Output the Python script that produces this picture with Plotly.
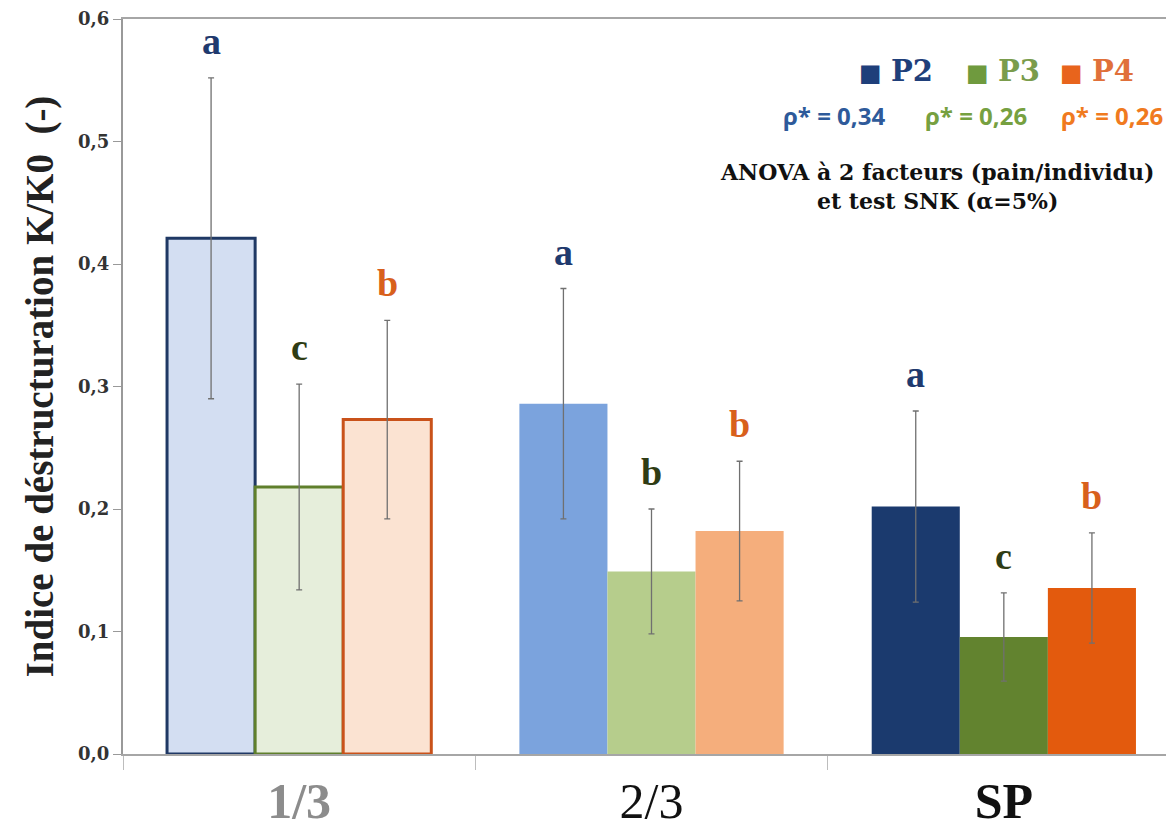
import plotly.graph_objects as go

categories = ["1/3", "2/3", "SP"]
series = ["P2", "P3", "P4"]

p2_values = [0.421, 0.286, 0.202]
p3_values = [0.218, 0.149, 0.0955]
p4_values = [0.273, 0.182, 0.1355]

p2_err = [0.131, 0.094, 0.078]
p3_err = [0.084, 0.051, 0.036]
p4_err = [0.081, 0.057, 0.045]

p2_letters = ["a", "a", "a"]
p3_letters = ["c", "b", "c"]
p4_letters = ["b", "b", "b"]

rho_labels = ["ρ* = 0,34", "ρ* = 0,26", "ρ* = 0,26"]
tick_labels = ["0,0", "0,1", "0,2", "0,3", "0,4", "0,5", "0,6"]

values = [p2_values, p3_values, p4_values]
errors = [p2_err, p3_err, p4_err]
letters = [p2_letters, p3_letters, p4_letters]

# styles
fill_colors = [
    ["#d3def2", "#7ba3dd", "#1b3a6e"],
    ["#e6eedb", "#b6cd8c", "#62832f"],
    ["#fbe3d2", "#f5ae7c", "#e35a0d"],
]
line_colors = [
    ["#1f3864", "#7ba3dd", "#1b3a6e"],
    ["#5f7f2c", "#b6cd8c", "#62832f"],
    ["#c9521a", "#f5ae7c", "#e35a0d"],
]
line_widths = [3, 0, 0]
letter_colors = ["#1f3a6e", "#2f3c14", "#d8601c"]
legend_colors = ["#1f3f7a", "#6f9a3e", "#e8641c"]
legend_text_colors = ["#1f3f7a", "#7a9c4c", "#e0703a"]
rho_colors = ["#2e5a9a", "#76a040", "#f07a20"]

# page body has an 8px default margin
OFF = 8
W, H = 1172, 836 - OFF
ML, MR, MT, MB = 123 - OFF, 0, 19 - OFF, 82
BARGAP = 0.25
group_px = (W - ML - MR) / len(categories)
bar_px = group_px * (1 - BARGAP) / len(series)

fig = go.Figure()
for i, s in enumerate(series):
    fig.add_trace(go.Bar(
        name=s,
        x=categories,
        y=values[i],
        marker=dict(color=fill_colors[i], line=dict(color=line_colors[i], width=line_widths)),
        error_y=dict(type="data", array=errors[i], visible=True,
                     color="#707070", thickness=1.3, width=3),
        showlegend=False,
    ))

annotations = []
for i, s in enumerate(series):
    for j, c in enumerate(categories):
        annotations.append(dict(
            x=c, y=values[i][j] + errors[i][j], xref="x", yref="y",
            text="<b>%s</b>" % letters[i][j], showarrow=False,
            xshift=(i - 1) * bar_px, yshift=14, yanchor="bottom",
            font=dict(family="Liberation Serif", size=38, color=letter_colors[i]),
        ))

# legend (custom); positions in window pixels
legend_x = [857, 964, 1058]
for i, s in enumerate(series):
    annotations.append(dict(
        x=legend_x[i], y=71, showarrow=False,
        text="<span style='color:%s;font-size:24px'>■</span> <b>%s</b>" % (legend_colors[i], s),
        xanchor="left", yanchor="middle",
        font=dict(family="DejaVu Serif", size=29, color=legend_text_colors[i]),
    ))
rho_x = [834, 976, 1112]
for i, s in enumerate(series):
    annotations.append(dict(
        x=rho_x[i], y=115, showarrow=False,
        text="<b>%s</b>" % rho_labels[i],
        xanchor="center", yanchor="middle",
        font=dict(family="Open Sans", size=24, color=rho_colors[i]),
    ))
annotations.append(dict(
    x=937, y=186, showarrow=False,
    text="<b>ANOVA à 2 facteurs (pain/individu)<br>et test SNK (α=5%)</b>",
    xanchor="center", yanchor="middle", align="center",
    font=dict(family="DejaVu Serif", size=22, color="#111111"),
))

# convert window-pixel text positions to paper coords
pw, ph = W - ML - MR, H - MT - MB
for a in annotations[len(series) * len(categories):]:
    a["xref"] = "paper"
    a["yref"] = "paper"
    a["x"] = (a["x"] - OFF - ML) / pw
    a["y"] = 1 - (a["y"] - OFF - MT) / ph

fig.update_layout(
    width=W, height=H,
    margin=dict(l=ML, r=MR, t=MT, b=MB, autoexpand=False),
    plot_bgcolor="white", paper_bgcolor="white",
    barmode="group", bargap=BARGAP, bargroupgap=0,
    annotations=annotations,
    xaxis=dict(
        tickvals=categories,
        ticktext=["<b><span style='color:#8c8c8c'>1/3</span></b>",
                  "<span style='color:#111'>2/3</span>",
                  "<b><span style='color:#111'>SP</span></b>"],
        tickfont=dict(family="Liberation Serif", size=50, color="#111"),
        showline=True, linecolor="#a6a6a6", linewidth=2, mirror=True,
        ticks="outside", tickson="boundaries", ticklen=14, tickcolor="#bdbdbd",
        ticklabelstandoff=2, automargin=False,
        showgrid=False, zeroline=False,
    ),
    yaxis=dict(
        range=[0, 0.6],
        tickvals=[0, 0.1, 0.2, 0.3, 0.4, 0.5, 0.6],
        ticktext=["<b>%s</b>" % t for t in tick_labels],
        tickfont=dict(family="DejaVu Serif", size=18, color="#333"),
        showline=True, linecolor="#999999", linewidth=2,
        ticks="outside", ticklen=8, tickcolor="#999999", automargin=False,
        showgrid=False, zeroline=False,
        title=dict(text="<b>Indice de déstructuration K/K0  (-)</b>",
                   font=dict(family="Liberation Serif", size=39, color="#222"),
                   standoff=12),
    ),
)

fig.write_html("out.html")
